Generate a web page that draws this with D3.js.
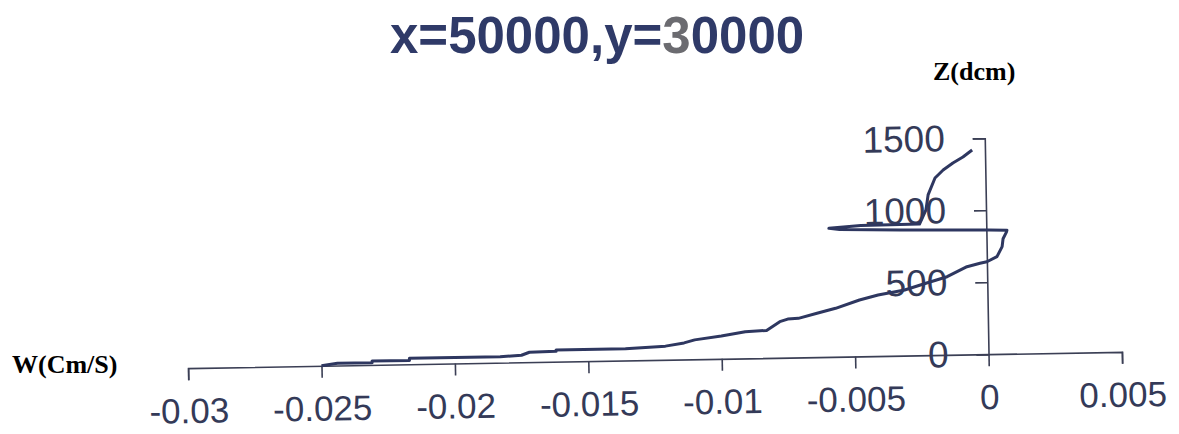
<!DOCTYPE html>
<html>
<head>
<meta charset="utf-8">
<script src="https://cdn.jsdelivr.net/npm/d3@7"></script>
<style>
  body { margin: 0; background: #fff; }
  svg { display: block; }
</style>
</head>
<body>
<script>
const title = 'x=50000,y='
const titleTail = '0000'
const xLabel = 'W(Cm/S)'
const yLabel = 'Z(dcm)'
const xTicks = [-0.03, -0.025, -0.02, -0.015, -0.01, -0.005, 0, 0.005]
const yTicks = [0, 500, 1000, 1500]

// vertical velocity W (cm/s) against depth Z (dcm)
const w = [-0.0250, -0.0244, -0.0231, -0.0231, -0.0217, -0.0217, -0.0183, -0.0175, -0.0172, -0.0162,
           -0.0162, -0.0136, -0.0130, -0.0121, -0.0114, -0.0110, -0.0100, -0.0091, -0.0083, -0.0078,
           -0.0075, -0.0071, -0.0064, -0.0057, -0.0048, -0.0041, -0.0031, -0.0023, -0.0015, -0.00075,
           -0.00026, 0, 0.00038, 0.00058, 0.00062, 0.00075, 0.00077, 0.0001, -0.0032, -0.0055,
           -0.0059, -0.0047, -0.0025, -0.00225, -0.00216, -0.00189, -0.00158, -0.00121, -0.00083, -0.00048]
const z = [0, 16, 16, 27, 27, 42, 42, 49, 69, 72,
           81, 81, 86, 95, 115, 135, 158, 185, 192, 251,
           268, 272, 305, 337, 392, 424, 456, 500, 543, 610,
           632, 642, 676, 745, 800, 845, 858, 862, 873, 884,
           893, 909, 912, 1009, 1113, 1230, 1284, 1332, 1372, 1420]

const width = 1179, height = 434
const ink = '#2e3760'

const svg = d3.select('body').append('svg')
  .attr('width', width)
  .attr('height', height)

const x = d3.scaleLinear().domain([-0.03, 0.005]).range([188, 1122])
const y = d3.scaleLinear().domain([0, 1500]).range([360, 144])

// the scanned figure sits a little crooked, tilt the plot the same way
const plot = svg.append('g').attr('transform', 'rotate(-1, 655, 360)')

let xAxis = plot.append('g')
  .attr('transform', `translate(0,${y(0)})`)
  .call(d3.axisBottom(x).tickValues(xTicks).tickFormat(d => String(d)).tickSize(12).tickPadding(18))

let yAxis = plot.append('g')
  .attr('transform', `translate(${x(0)},0)`)
  .call(d3.axisLeft(y).tickValues(yTicks).tickFormat(d => String(d)).tickSize(12).tickPadding(28))

for (let ax of [xAxis, yAxis]) {
  ax.selectAll('path, line').attr('stroke', '#3b3f55').attr('stroke-width', 1.6)
  ax.selectAll('text')
    .attr('font-family', 'Liberation Sans, Arial, sans-serif')
    .attr('fill', '#343a58')
}
xAxis.selectAll('text').attr('font-size', 35)
yAxis.selectAll('text').attr('font-size', 37)

const line = d3.line()
  .x(i => x(w[i]))
  .y(i => y(z[i]))

plot.append('path')
  .attr('d', line(d3.range(w.length)))
  .attr('fill', 'none')
  .attr('stroke', ink)
  .attr('stroke-width', 3)
  .attr('stroke-linejoin', 'round')

// title, the "3" came out grey in the scan
let t = svg.append('text')
  .attr('x', 390)
  .attr('y', 53)
  .attr('font-family', 'Liberation Sans, Arial, sans-serif')
  .attr('font-weight', 'bold')
  .attr('font-size', 51)
  .attr('fill', '#2f3a68')
t.append('tspan').text(title)
t.append('tspan').attr('fill', '#6b6b70').text('3')
t.append('tspan').text(titleTail)

svg.append('text')
  .attr('x', 933)
  .attr('y', 80)
  .attr('font-family', 'Liberation Serif, Times New Roman, serif')
  .attr('font-weight', 'bold')
  .attr('font-size', 26)
  .text(yLabel)

svg.append('text')
  .attr('x', 12)
  .attr('y', 373)
  .attr('font-family', 'Liberation Serif, Times New Roman, serif')
  .attr('font-weight', 'bold')
  .attr('font-size', 26)
  .text(xLabel)
</script>
</body>
</html>
